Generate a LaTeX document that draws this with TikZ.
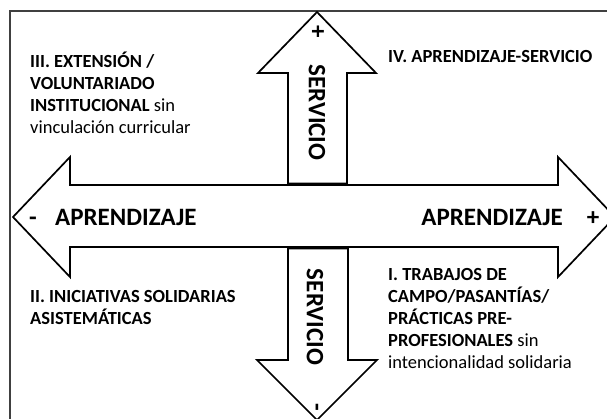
\documentclass[tikz,border=0pt]{standalone}
\usepackage{fontspec}
\setmainfont{Carlito}
\newcommand\ql[1]{\hbox{#1}}
\begin{document}
\begin{tikzpicture}[x=1pt,y=-1pt,
  arrowshape/.style={draw=black, line width=1.7pt, fill=white, line join=miter},
  frame/.style={draw=black!75, line width=1.3pt},
  biglabel/.style={font=\fontsize{25}{28}\selectfont\bfseries, inner sep=0pt},
  quad/.style={font=\fontsize{18.5}{22.2}\selectfont, inner sep=0pt, anchor=base west}]
\useasboundingbox (0,0) rectangle (607,418);
\begin{scope}
\clip (0,0) rectangle (607,418);
\draw[frame] (10,11) rectangle (640,440);
\path[arrowshape] (288,183.5) -- (288,73) -- (258,73) -- (317,12) -- (376,73) -- (347,73) -- (347,183.5) -- cycle;
\path[arrowshape] (288,248.5) -- (288,360) -- (257,360) -- (317,420) -- (377,360) -- (348,360) -- (348,248.5) -- cycle;
\path[arrowshape] (13,217) -- (70,157) -- (70,185) -- (558,185) -- (558,157) -- (615,217) -- (558,277) -- (558,247) -- (70,247) -- (70,277) -- cycle;
\end{scope}
\node[biglabel, anchor=base west] (apl) at (55,225) {APRENDIZAJE};
\node[biglabel, anchor=base west] (minl) at (29,225) {-};
\node[biglabel, anchor=base east] (apr) at (563,225) {APRENDIZAJE};
\node[biglabel, anchor=base] (plusr) at (593,225) {+};
\node[biglabel, rotate=-90] (servu) at (317,112.5) {SERVICIO};
\node[biglabel, rotate=-90] (plusu) at (317,32) {+};
\node[biglabel, rotate=-90] (servd) at (315,317) {SERVICIO};
\node[biglabel, rotate=-90] (mind) at (314,407) {-};
\node[quad] (q3) at (30,67) {\vtop{\ql{\bfseries III. EXTENSIÓN /}\ql{\bfseries VOLUNTARIADO}\ql{\textbf{INSTITUCIONAL} sin}\ql{vinculación curricular}}};
\node[quad] (q4) at (388,62) {\vtop{\ql{\bfseries IV. APRENDIZAJE-SERVICIO}}};
\node[quad] (q2) at (30,302) {\vtop{\ql{\bfseries II. INICIATIVAS SOLIDARIAS}\ql{\bfseries ASISTEMÁTICAS}}};
\node[quad] (q1) at (388,280) {\vtop{\ql{\bfseries I. TRABAJOS DE}\ql{\bfseries CAMPO/PASANTÍAS/}\ql{\bfseries PRÁCTICAS PRE-}\ql{\textbf{PROFESIONALES} sin}\ql{intencionalidad solidaria}}};
\end{tikzpicture}
\end{document}
